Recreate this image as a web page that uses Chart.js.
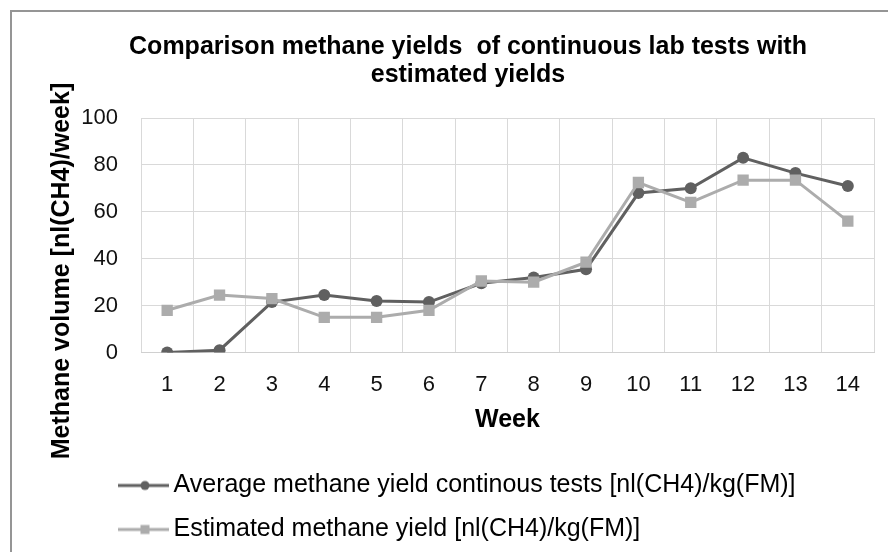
<!DOCTYPE html>
<html>
<head>
<meta charset="utf-8">
<script src="https://cdn.jsdelivr.net/npm/chart.js@4.4.1/dist/chart.umd.min.js"></script>
<style>
  html, body { margin: 0; padding: 0; background: #ffffff; }
  #wrap { position: relative; width: 888px; height: 552px; overflow: hidden; }
  #frame { position: absolute; left: 10px; top: 10px; width: 1000px; height: 700px;
           border-top: 2px solid #959595; border-left: 2px solid #959595; box-sizing: border-box; }
  canvas { position: absolute; left: 0; top: 0; }
</style>
</head>
<body>
<div id="wrap">
  <div id="frame"></div>
  <canvas id="c" width="888" height="552"></canvas>
</div>
<script>
const weeks = ['1','2','3','4','5','6','7','8','9','10','11','12','13','14'];
const avgYield = [0, 1, 21.5, 24.5, 22, 21.5, 29.5, 32, 35.5, 68, 70, 83, 76.5, 71];
const estYield = [18, 24.5, 23, 15, 15, 18, 30.5, 30, 38.5, 72.5, 64, 73.5, 73.5, 56];
const seriesNames = [
  'Average methane yield continous tests [nl(CH4)/kg(FM)]',
  'Estimated methane yield [nl(CH4)/kg(FM)]'
];
const titleLines = ['Comparison methane yields  of continuous lab tests with', 'estimated yields'];
const xTitle = 'Week';
const yTitle = 'Methane volume [nl(CH4)/week]';

const DARK = '#606060';
const LIGHT = '#acacac';
const FONT = "'Liberation Sans', Arial, Helvetica, sans-serif";

function legendIcon(color, kind) {
  const cv = document.createElement('canvas');
  cv.width = 96; cv.height = 16;
  const g = cv.getContext('2d');
  g.strokeStyle = color; g.lineWidth = 3;
  g.beginPath(); g.moveTo(45, 8); g.lineTo(96, 8); g.stroke();
  g.fillStyle = color;
  if (kind === 'circle') { g.beginPath(); g.arc(72, 8, 4.5, 0, Math.PI * 2); g.fill(); }
  else { g.fillRect(67.5, 3.5, 9, 9); }
  return cv;
}
const icons = [legendIcon(DARK, 'circle'), legendIcon(LIGHT, 'rect')];

const yTitlePlugin = {
  id: 'yTitlePlugin',
  afterDraw(chart) {
    const ctx = chart.ctx;
    ctx.save();
    ctx.translate(62, 271);
    ctx.rotate(-Math.PI / 2);
    ctx.font = 'bold 25px ' + FONT;
    ctx.fillStyle = '#000000';
    ctx.textAlign = 'center';
    ctx.textBaseline = 'middle';
    ctx.fillText(yTitle, 0, 0);
    ctx.restore();
  }
};

new Chart(document.getElementById('c'), {
  type: 'line',
  data: {
    labels: weeks,
    datasets: [
      { label: seriesNames[0], data: avgYield, borderColor: DARK, backgroundColor: DARK,
        borderWidth: 3, pointStyle: 'circle', pointRadius: 6, pointBorderWidth: 0,
        pointBackgroundColor: DARK, tension: 0, order: 1 },
      { label: seriesNames[1], data: estYield, borderColor: LIGHT, backgroundColor: LIGHT,
        borderWidth: 3, pointStyle: 'rect', pointRadius: 8, pointBorderWidth: 0,
        pointBackgroundColor: LIGHT, tension: 0, order: 0 }
    ]
  },
  options: {
    responsive: false,
    animation: false,
    layout: { padding: { left: 62, right: 14, top: 33, bottom: 0 } },
    plugins: {
      title: {
        display: true, text: titleLines, color: '#000000',
        font: { family: FONT, size: 25, weight: 'bold', lineHeight: 1.12 },
        padding: { top: 0, bottom: 29 }
      },
      legend: {
        display: true, position: 'bottom', align: 'start',
        labels: {
          usePointStyle: true, pointStyleWidth: 80, padding: 19,
          color: '#000000', font: { family: FONT, size: 25 },
          sort: (a, b) => a.datasetIndex - b.datasetIndex,
          generateLabels(chart) {
            const items = Chart.defaults.plugins.legend.labels.generateLabels(chart);
            items.forEach(it => { it.pointStyle = icons[it.datasetIndex]; });
            return items;
          }
        }
      },
      tooltip: { enabled: false }
    },
    scales: {
      x: {
        offset: true,
        grid: { display: true, offset: true, color: '#d9d9d9', lineWidth: 1, drawTicks: false },
        border: { display: true, color: '#d0d0d0', width: 1 },
        ticks: { color: '#111111', font: { family: FONT, size: 22 }, padding: 19, maxRotation: 0 },
        title: { display: true, text: xTitle, color: '#000000',
                 font: { family: FONT, size: 25, weight: 'bold' }, padding: { top: 0, bottom: 18.5 } },
        afterFit(scale) { scale.height = 101.5; }
      },
      y: {
        min: 0, max: 100,
        grid: { color: '#d9d9d9', lineWidth: 1, drawTicks: false },
        border: { display: false },
        ticks: { stepSize: 20, color: '#111111', font: { family: FONT, size: 22 }, padding: 23 },
        afterFit(scale) { scale.width = 79; }
      }
    }
  },
  plugins: [yTitlePlugin]
});
</script>
</body>
</html>
